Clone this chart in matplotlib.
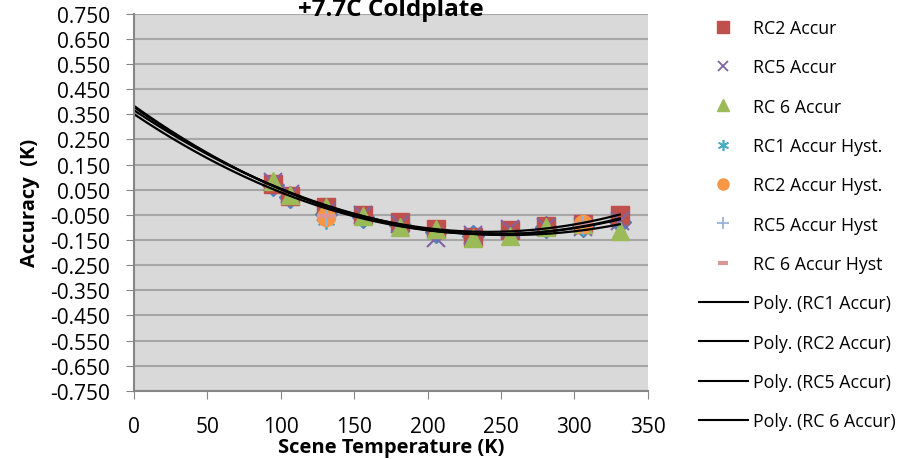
import numpy as np
import matplotlib
matplotlib.use("Agg")
import matplotlib.pyplot as plt
from matplotlib.lines import Line2D

plt.rcParams["font.family"] = ["Open Sans", "DejaVu Sans"]

# Scene temperatures (K) for the accuracy runs
temps = [95, 106, 131, 156, 181, 206, 231, 256, 281, 306, 331]
rc1_accur = [0.070, 0.020, -0.045, -0.060, -0.092, -0.120, -0.135, -0.118, -0.100, -0.095, -0.080]
rc2_accur = [0.074, 0.027, -0.018, -0.050, -0.078, -0.106, -0.137, -0.110, -0.093, -0.085, -0.050]
rc5_accur = [0.080, 0.035, -0.040, -0.050, -0.085, -0.140, -0.130, -0.105, -0.098, -0.100, -0.075]
rc6_accur = [0.085, 0.030, -0.020, -0.055, -0.097, -0.105, -0.140, -0.133, -0.100, -0.088, -0.115]

# Hysteresis points
temps_hyst = [131, 306]
rc1_hyst = [-0.072, -0.095]
rc2_hyst = [-0.057, -0.085]
rc5_hyst = [-0.060, -0.090]
rc6_hyst = [-0.055, -0.085]

fig = plt.figure(figsize=(9.11, 4.6), dpi=100)
ax = fig.add_axes([0.147, 0.148, 0.564, 0.820])
ax.set_facecolor("#D9D9D9")

ms = 13
ax.plot(temps, rc1_accur, "D", color="#4F81BD", ms=ms * 0.9, ls="none")
ax.plot(temps, rc2_accur, "s", color="#C0504D", ms=ms, ls="none")
ax.plot(temps, rc5_accur, "x", color="#8064A2", ms=ms, mew=1.5, ls="none")
ax.plot(temps, rc6_accur, "^", color="#9BBB59", ms=ms, ls="none")
ax.plot(temps_hyst, rc1_hyst, marker=(6, 2, 0), color="#4BACC6", ms=ms, mew=1.3, ls="none")
ax.plot(temps_hyst, rc2_hyst, "o", color="#F79646", ms=ms, ls="none")
ax.plot(temps_hyst, rc5_hyst, "+", color="#95B3D7", ms=ms, mew=1.5, ls="none")
ax.plot(temps_hyst, rc6_hyst, "_", color="#D99694", ms=ms, mew=3, ls="none")

# 2nd order polynomial trendlines, forecast back to 0 K
xfit = np.linspace(0, 331, 200)
for series in [rc1_accur, rc2_accur, rc5_accur, rc6_accur]:
    coef = np.polyfit(temps, series, 2)
    ax.plot(xfit, np.polyval(coef, xfit), color="black", lw=1.6)

ax.set_xlim(0, 350)
ax.set_ylim(-0.75, 0.75)
ax.set_xticks(range(0, 351, 50))
yt = np.arange(-0.75, 0.751, 0.1)
ax.set_yticks(yt)
ax.set_yticklabels([f"{v:.3f}" for v in yt])
ax.tick_params(labelsize=15, length=6, color="#868686", direction="out")
ax.tick_params(axis="x", pad=12)
ax.tick_params(axis="y", pad=11)
ax.yaxis.grid(True, color="#A6A6A6", lw=1.5)
ax.set_axisbelow(True)
for s in ["top", "right"]:
    ax.spines[s].set_visible(False)
for s in ["left", "bottom"]:
    ax.spines[s].set_color("#868686")
    ax.spines[s].set_linewidth(1.5)

ax.set_xlabel("Scene Temperature (K)", fontsize=14.5, fontweight="bold", va="center")
ax.xaxis.set_label_coords(0.5, -0.149)
ax.set_ylabel("Accuracy  (K)", fontsize=14.5, fontweight="bold", va="center")
ax.yaxis.set_label_coords(-0.203, 0.5)
ax.set_title("+7.7C Coldplate", fontsize=17.5, fontweight="bold", y=1.0, pad=-1)

handles = [
    Line2D([], [], marker="s", color="#C0504D", ls="none", ms=8),
    Line2D([], [], marker="x", color="#8064A2", ls="none", ms=7, mew=1.3),
    Line2D([], [], marker="^", color="#9BBB59", ls="none", ms=8),
    Line2D([], [], marker=(6, 2, 0), color="#4BACC6", ls="none", ms=8, mew=1.2),
    Line2D([], [], marker="o", color="#F79646", ls="none", ms=8),
    Line2D([], [], marker="+", color="#95B3D7", ls="none", ms=8, mew=1.3),
    Line2D([], [], marker="_", color="#D99694", ls="none", ms=7, mew=3),
    Line2D([], [], color="black", lw=1.5),
    Line2D([], [], color="black", lw=1.5),
    Line2D([], [], color="black", lw=1.5),
    Line2D([], [], color="black", lw=1.5),
]
labels = ["RC2 Accur", "RC5 Accur", "RC 6 Accur", "RC1 Accur Hyst.", "RC2 Accur Hyst.",
          "RC5 Accur Hyst", "RC 6 Accur Hyst", "Poly. (RC1 Accur)", "Poly. (RC2 Accur)",
          "Poly. (RC5 Accur)", "Poly. (RC 6 Accur)"]
fig.legend(handles, labels, loc="upper left", bbox_to_anchor=(0.759, 0.972), frameon=False,
           fontsize=12.8, handlelength=2.8, handletextpad=0.28, labelspacing=1.2,
           borderaxespad=0.0)

plt.savefig("out.png", dpi=100)
